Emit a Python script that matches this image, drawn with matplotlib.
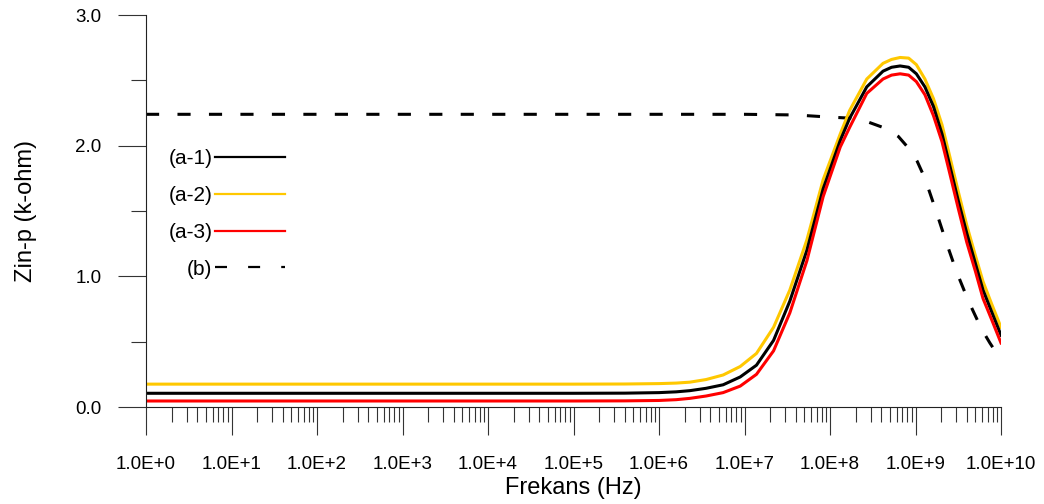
import numpy as np
import matplotlib
matplotlib.use("Agg")
import matplotlib.pyplot as plt
from matplotlib.lines import Line2D
from matplotlib.ticker import FixedLocator, FixedFormatter, LogLocator, NullFormatter, MultipleLocator

plt.rcParams['font.family'] = ['Liberation Sans', 'DejaVu Sans']

# frequency points (log10 Hz)
exp_a = [0, 5.0, 5.6, 6.0, 6.2, 6.36, 6.55, 6.75, 6.95, 7.14, 7.34, 7.53,
         7.73, 7.92, 8.12, 8.23, 8.43, 8.62, 8.72, 8.82, 8.92, 9.01, 9.11,
         9.21, 9.31, 9.40, 9.50, 9.60, 9.70, 9.79, 9.89, 10.0]
a1 = [0.105, 0.105, 0.106, 0.11, 0.116, 0.125, 0.143, 0.17, 0.23, 0.32, 0.51,
      0.81, 1.20, 1.67, 2.04, 2.21, 2.45, 2.57, 2.60, 2.61, 2.60, 2.55, 2.45,
      2.30, 2.09, 1.85, 1.58, 1.33, 1.10, 0.895, 0.73, 0.55]
a2 = [0.175, 0.175, 0.176, 0.179, 0.183, 0.19, 0.21, 0.245, 0.31, 0.41, 0.61,
      0.895, 1.28, 1.74, 2.09, 2.27, 2.51, 2.63, 2.66, 2.675, 2.67, 2.62, 2.51,
      2.36, 2.16, 1.92, 1.65, 1.39, 1.16, 0.96, 0.79, 0.61]
a3 = [0.046, 0.046, 0.047, 0.05, 0.056, 0.066, 0.084, 0.11, 0.16, 0.25, 0.43,
      0.72, 1.12, 1.61, 1.99, 2.14, 2.40, 2.51, 2.54, 2.55, 2.54, 2.49, 2.39,
      2.23, 2.03, 1.79, 1.52, 1.26, 1.04, 0.83, 0.67, 0.49]

exp_b = [0, 7.0, 7.6, 7.96, 8.25, 8.45, 8.66, 8.8, 8.92, 9.02, 9.11, 9.23,
         9.36, 9.48, 9.62, 9.77, 9.87, 9.95, 10.0]
b = [2.24, 2.24, 2.235, 2.22, 2.21, 2.18, 2.13, 2.07, 1.98, 1.88, 1.75, 1.52,
     1.26, 1.035, 0.81, 0.60, 0.49, 0.41, 0.37]

xtick_exp = list(range(0, 11))
xtick_labels = ["1.0E+%d" % e for e in xtick_exp]
ytick_vals = [0.0, 1.0, 2.0, 3.0]
ytick_labels = ["0.0", "1.0", "2.0", "3.0"]

gold = '#FFC800'
red = '#FF0000'

fig = plt.figure(figsize=(10.44, 5.04), dpi=100)
ax = fig.add_axes([146 / 1044, 1 - 407 / 504, 855 / 1044, 392 / 504])

fa = 10.0 ** np.array(exp_a)
fb = 10.0 ** np.array(exp_b)
ax.plot(fb, b, color='black', lw=2.2, dashes=(4.3, 6.0))
ax.plot(fa, a2, color=gold, lw=2.2)
ax.plot(fa, a1, color='black', lw=2.2)
ax.plot(fa, a3, color=red, lw=2.2)

ax.set_xscale('log')
ax.set_xlim(1e0, 1e10)
ax.set_ylim(0, 3.0)

ax.xaxis.set_major_locator(FixedLocator([10.0 ** e for e in xtick_exp]))
ax.xaxis.set_major_formatter(FixedFormatter(xtick_labels))
ax.xaxis.set_minor_locator(LogLocator(base=10, subs=range(2, 10), numticks=50))
ax.xaxis.set_minor_formatter(NullFormatter())
ax.yaxis.set_major_locator(FixedLocator(ytick_vals))
ax.yaxis.set_major_formatter(FixedFormatter(ytick_labels))
ax.yaxis.set_minor_locator(MultipleLocator(0.5))

for s in ['top', 'right']:
    ax.spines[s].set_visible(False)
for s in ['left', 'bottom']:
    ax.spines[s].set_linewidth(0.8)
    ax.spines[s].set_color('#222222')

ax.tick_params(which='major', direction='out', length=20, width=0.8,
               color='#333333', labelsize=13.5)
ax.tick_params(which='minor', direction='out', length=10.5, width=0.8,
               color='#333333')
ax.tick_params(axis='x', which='major', pad=15.5)
ax.tick_params(axis='y', which='major', pad=12)

ax.set_xlabel('Frekans (Hz)', fontsize=17)
ax.set_ylabel('Zin-p (k-ohm)', fontsize=17)
ax.xaxis.set_label_coords(0.5, -0.178)
ax.yaxis.set_label_coords(-0.128, 0.5)

handles = [Line2D([], [], color='black', lw=1.6),
           Line2D([], [], color=gold, lw=1.6),
           Line2D([], [], color=red, lw=1.6),
           Line2D([], [], color='black', lw=1.6, dashes=(5.4, 9.5))]
ax.legend(handles, ['(a-1)', '(a-2)', '(a-3)', '(b)'], loc='upper right',
          bbox_to_anchor=(0.163, 0.657), frameon=False, markerfirst=False,
          fontsize=15, handlelength=3.4, handletextpad=0.1,
          labelspacing=0.85, borderpad=0, borderaxespad=0)

fig.savefig('out.png', dpi=100)
